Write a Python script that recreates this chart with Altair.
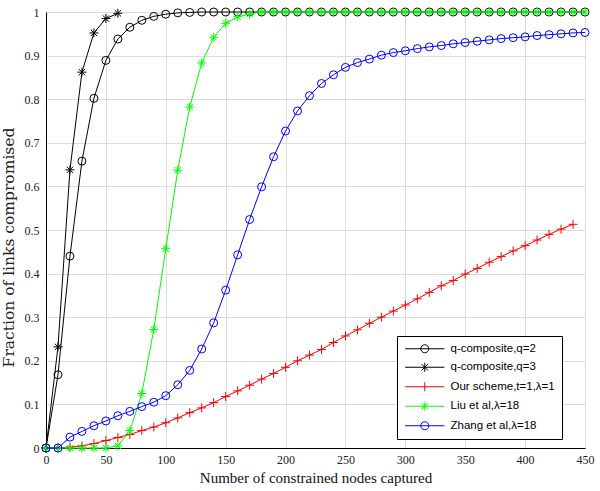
import altair as alt
import pandas as pd

series_names = ["q-composite,q=2", "q-composite,q=3", "Our scheme,t=1,λ=1",
                "Liu et al,λ=18", "Zhang et al,λ=18"]
series_colors = ["#000000", "#000000", "#ff0000", "#00ff00", "#0000ff"]

x_q2 = list(range(0, 460, 10))
y_q2 = [0, 0.168, 0.44, 0.658, 0.802, 0.889, 0.938, 0.965, 0.981, 0.99,
        0.995, 0.998, 0.999, 1, 1, 1, 1, 1, 1, 1,
        1, 1, 1, 1, 1, 1, 1, 1, 1, 1,
        1, 1, 1, 1, 1, 1, 1, 1, 1, 1,
        1, 1, 1, 1, 1, 1]

x_q3 = list(range(0, 70, 10))
y_q3 = [0, 0.232, 0.638, 0.862, 0.952, 0.985, 0.997]

x_our = list(range(0, 450, 10))
y_our = [0, 0, 0.002, 0.005, 0.010, 0.017, 0.024, 0.031, 0.040, 0.048,
         0.058, 0.069, 0.081, 0.092, 0.104, 0.118, 0.131, 0.144, 0.158, 0.171,
         0.185, 0.200, 0.213, 0.226, 0.242, 0.257, 0.271, 0.286, 0.300, 0.314,
         0.328, 0.342, 0.357, 0.372, 0.384, 0.399, 0.412, 0.426, 0.439, 0.452,
         0.464, 0.477, 0.490, 0.502, 0.513]

x_liu = list(range(0, 460, 10))
y_liu = [0, 0, 0, 0, 0, 0, 0.005, 0.04, 0.125, 0.272,
         0.457, 0.637, 0.782, 0.883, 0.942, 0.974, 0.989, 0.995, 1, 1,
         1, 1, 1, 1, 1, 1, 1, 1, 1, 1,
         1, 1, 1, 1, 1, 1, 1, 1, 1, 1,
         1, 1, 1, 1, 1, 1]

x_zhang = list(range(0, 460, 10))
y_zhang = [0, 0, 0.025, 0.038, 0.051, 0.062, 0.074, 0.084, 0.095, 0.105,
           0.120, 0.145, 0.178, 0.227, 0.287, 0.362, 0.443, 0.524, 0.599, 0.668,
           0.727, 0.773, 0.808, 0.836, 0.856, 0.873, 0.884, 0.892, 0.901, 0.907,
           0.911, 0.916, 0.920, 0.923, 0.927, 0.930, 0.933, 0.936, 0.939, 0.941,
           0.943, 0.946, 0.948, 0.950, 0.952, 0.953]

x_ticks = [0, 50, 100, 150, 200, 250, 300, 350, 400, 450]
y_ticks = [0, 0.1, 0.2, 0.3, 0.4, 0.5, 0.6, 0.7, 0.8, 0.9, 1]

all_x = [x_q2, x_q3, x_our, x_liu, x_zhang]
all_y = [y_q2, y_q3, y_our, y_liu, y_zhang]
rows = []
for name, xs, ys in zip(series_names, all_x, all_y):
    for xv, yv in zip(xs, ys):
        rows.append({"series": name, "x": xv, "y": yv})
df = pd.DataFrame(rows)

CIRCLE = "circle"
ASTER = "M-1,0L1,0M0,-1L0,1M-0.7,-0.7L0.7,0.7M-0.7,0.7L0.7,-0.7"
PLUS = "M-1,0L1,0M0,-1L0,1"
marker_shapes = [CIRCLE, ASTER, PLUS, ASTER, CIRCLE]
marker_sizes = [64, 81, 81, 81, 64]

# legend glyphs: unit = 4px (size 64); a line segment through the marker
L = 4.9
LEG_CIRCLE = f"M-{L},0L{L},0M1,0A1,1,0,1,1,-1,0A1,1,0,1,1,1,0"
LEG_ASTER = (f"M-{L},0L{L},0M0,-1.12L0,1.12M-0.8,-0.8L0.8,0.8M-0.8,0.8L0.8,-0.8")
LEG_PLUS = f"M-{L},0L{L},0M0,-1.12L0,1.12"
legend_shapes = [LEG_CIRCLE, LEG_ASTER, LEG_PLUS, LEG_ASTER, LEG_CIRCLE]

color_scale = alt.Scale(domain=series_names, range=series_colors)
shape_scale = alt.Scale(domain=series_names, range=marker_shapes)
legend_shape_scale = alt.Scale(domain=series_names, range=legend_shapes)

serif = "Liberation Serif"

x_enc = alt.X("x:Q", scale=alt.Scale(domain=[0, 450], nice=False, zero=False),
              axis=alt.Axis(values=x_ticks, title="Number of constrained nodes captured",
                            labelFont=serif, labelFontSize=12, titleFont=serif,
                            titleFontSize=15, titleFontWeight="normal", ticks=False,
                            labelPadding=6, titlePadding=5, labelColor="#222222",
                            titleColor="#111111", domainColor="#000000",
                            gridColor="#dcdcdc", labelFlush=False))
y_enc = alt.Y("y:Q", scale=alt.Scale(domain=[0, 1], nice=False),
              axis=alt.Axis(values=y_ticks, format="~g", title="Fraction of links compromised",
                            labelFont=serif, labelFontSize=12, titleFont="DejaVu Serif",
                            titleFontSize=15.5, titleFontWeight="normal", ticks=False,
                            labelPadding=7, titlePadding=8, labelColor="#222222",
                            titleColor="#222222", domainColor="#000000", titleY=235,
                            gridColor="#dcdcdc", labelFlush=False))

layers = []
for name, sz in zip(series_names, marker_sizes):
    base = alt.Chart(df).transform_filter(alt.datum.series == name)
    line = base.mark_line(strokeWidth=1).encode(
        x=x_enc, y=y_enc,
        color=alt.Color("series:N", scale=color_scale, legend=None))
    pts = base.mark_point(filled=False, strokeWidth=1, size=sz, opacity=1).encode(
        x=x_enc, y=y_enc,
        color=alt.Color("series:N", scale=color_scale, legend=None),
        shape=alt.Shape("series:N", scale=shape_scale, legend=None))
    layers += [line, pts]

leg = alt.Legend(title=None, orient="none", legendX=351, legendY=324,
                 strokeColor="#000000", fillColor="#ffffff", padding=7,
                 labelFont="Liberation Sans", labelFontSize=11.5, labelColor="#000000",
                 symbolSize=64, symbolStrokeWidth=1, symbolOffset=15, labelOffset=20,
                 rowPadding=5.5, labelLimit=300, symbolFillColor="transparent")
legend_layer = alt.Chart(df).transform_filter("false").mark_point(
    filled=False, strokeWidth=1, size=64, opacity=1).encode(
    x=x_enc, y=y_enc,
    color=alt.Color("series:N", scale=color_scale, legend=leg),
    shape=alt.Shape("series:N", scale=legend_shape_scale, legend=leg))
layers.append(legend_layer)

chart = alt.layer(*layers).resolve_scale(
    color="independent", shape="independent"
).properties(
    width=539, height=436,
    autosize=alt.AutoSizeParams(type="none"),
    padding={"left": 46, "top": 12, "right": 15, "bottom": 43},
    background="#ffffff",
).configure_view(stroke="#000000", strokeWidth=1)

chart.save("out.html", embed_options={"renderer": "svg", "actions": False})
